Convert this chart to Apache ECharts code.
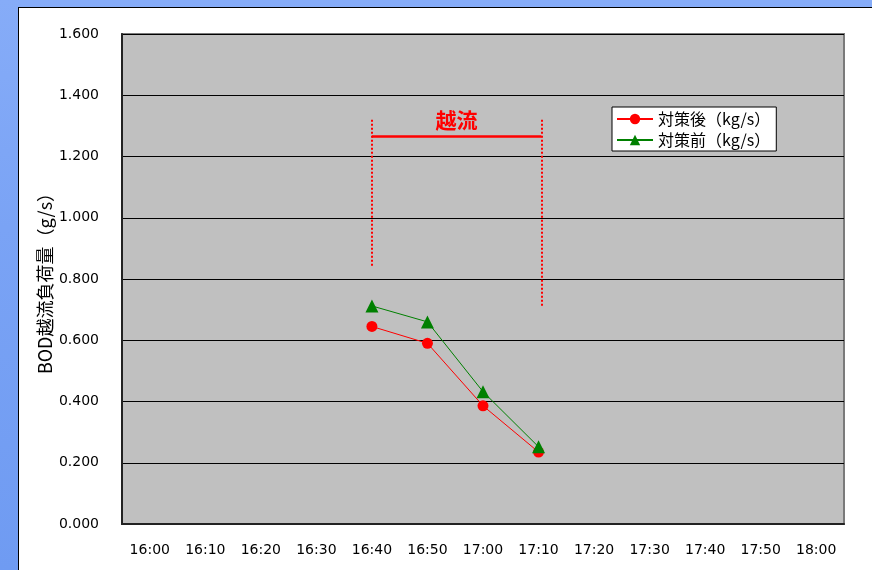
<!DOCTYPE html>
<html>
<head>
<meta charset="utf-8">
<script src="https://cdn.jsdelivr.net/npm/echarts@6/dist/echarts.min.js"></script>
<style>
  html, body { margin: 0; padding: 0; }
  body {
    width: 872px; height: 570px; overflow: hidden; position: relative;
    background: linear-gradient(180deg, #86acf8 0%, #7aa3f5 40%, #6f9bf2 100%);
  }
  #panel {
    position: absolute; left: 18px; top: 7px; width: 860px; height: 570px;
    background: #ffffff; border-left: 1px solid #000; border-top: 1px solid #000;
  }
  #chart { position: absolute; left: 0; top: 0; width: 872px; height: 570px; }
</style>
</head>
<body>
<div id="panel"></div>
<div id="chart"></div>
<script>
// Time slots along the x axis (10-minute steps)
const timeSlots = ['16:00', '16:10', '16:20', '16:30', '16:40', '16:50', '17:00',
                   '17:10', '17:20', '17:30', '17:40', '17:50', '18:00'];
// BOD overflow load after countermeasures (kg/s)
const afterValues = [null, null, null, null, 0.645, 0.590, 0.386, 0.235, null, null, null, null, null];
// BOD overflow load before countermeasures (kg/s)
const beforeValues = [null, null, null, null, 0.712, 0.660, 0.432, 0.252, null, null, null, null, null];

const afterName = '対策後（kg/s）';
const beforeName = '対策前（kg/s）';
const yAxisTitle = 'BOD越流負荷量（g/s）';

// Overflow period bracket, in slot-index units (16:40 = 4, 17:10 = 7)
const overflowStart = 4.0;
const overflowEnd = 7.05;
const overflowLabel = '越流';
const bracketTop = 1.32;
const bracketLevel = 1.265;
const startBottom = 0.84;
const endBottom = 0.71;

const latin = '"DejaVu Sans", "Liberation Sans", sans-serif';
const cjk = '"Noto Sans CJK JP", "DejaVu Sans", sans-serif';

const chart = echarts.init(document.getElementById('chart'), null, { renderer: 'canvas' });

const dotted = { color: '#ff0000', width: 2, type: [2, 2] };

chart.setOption({
  animation: false,
  backgroundColor: 'transparent',
  grid: {
    left: 122, top: 34, right: 28, bottom: 46,
    show: true, backgroundColor: '#c0c0c0', borderColor: '#7a7a7a', borderWidth: 2
  },
  legend: {
    orient: 'vertical',
    left: 612, top: 107,
    backgroundColor: '#ffffff',
    borderColor: '#000000', borderWidth: 1,
    padding: [4, 6, 3, 4],
    itemWidth: 36, itemHeight: 13, itemGap: 5,
    textStyle: { fontFamily: cjk, fontSize: 16, color: '#000' },
    data: [afterName, beforeName]
  },
  xAxis: [
    {
      type: 'category',
      data: timeSlots,
      boundaryGap: true,
      axisLine: { lineStyle: { color: '#222', width: 2 } },
      axisTick: { inside: true, length: 5, lineStyle: { color: '#222', width: 1 } },
      axisLabel: { fontFamily: latin, fontSize: 14, color: '#000', margin: 19 },
      splitLine: { show: false }
    },
    {
      // hidden helper axis spanning the same slots, used by the overflow bracket
      type: 'value', min: -0.5, max: 12.5, show: false
    }
  ],
  yAxis: {
    type: 'value',
    min: 0, max: 1.6, interval: 0.2,
    name: yAxisTitle,
    nameLocation: 'middle',
    nameRotate: 90,
    nameGap: 68,
    nameMoveOverlap: false,
    nameTextStyle: { fontFamily: cjk, fontSize: 18, color: '#000' },
    axisLine: { show: true, onZero: false, lineStyle: { color: '#222', width: 2 } },
    axisTick: { show: false },
    axisLabel: {
      fontFamily: latin, fontSize: 14, color: '#000', margin: 23,
      formatter: v => v.toFixed(3)
    },
    splitLine: { lineStyle: { color: '#000', width: 1 } }
  },
  series: [
    {
      name: afterName,
      type: 'line',
      data: afterValues,
      symbol: 'circle', symbolSize: 11,
      itemStyle: { color: '#ff0000' },
      lineStyle: { color: '#ff0000', width: 1 },
      z: 3
    },
    {
      name: beforeName,
      type: 'line',
      data: beforeValues,
      symbol: 'triangle', symbolSize: 13,
      itemStyle: { color: '#008000' },
      lineStyle: { color: '#008000', width: 1 },
      z: 4
    },
    {
      name: 'overflow',
      type: 'line',
      xAxisIndex: 1,
      data: [],
      silent: true,
      markLine: {
        silent: true,
        symbol: ['none', 'none'],
        animation: false,
        label: { show: false },
        data: [
          [{ coord: [overflowStart, bracketTop], lineStyle: dotted },
           { coord: [overflowStart, startBottom] }],
          [{ coord: [overflowEnd, bracketTop], lineStyle: dotted },
           { coord: [overflowEnd, endBottom] }],
          [{ coord: [overflowStart, bracketLevel],
             lineStyle: { color: '#ff0000', width: 2.5, type: 'solid' },
             label: {
               show: true, position: 'middle', formatter: overflowLabel,
               fontFamily: cjk, fontSize: 21, fontWeight: 'bold', color: '#ff0000', distance: 6
             } },
           { coord: [overflowEnd, bracketLevel] }]
        ]
      }
    }
  ]
});
</script>
</body>
</html>
